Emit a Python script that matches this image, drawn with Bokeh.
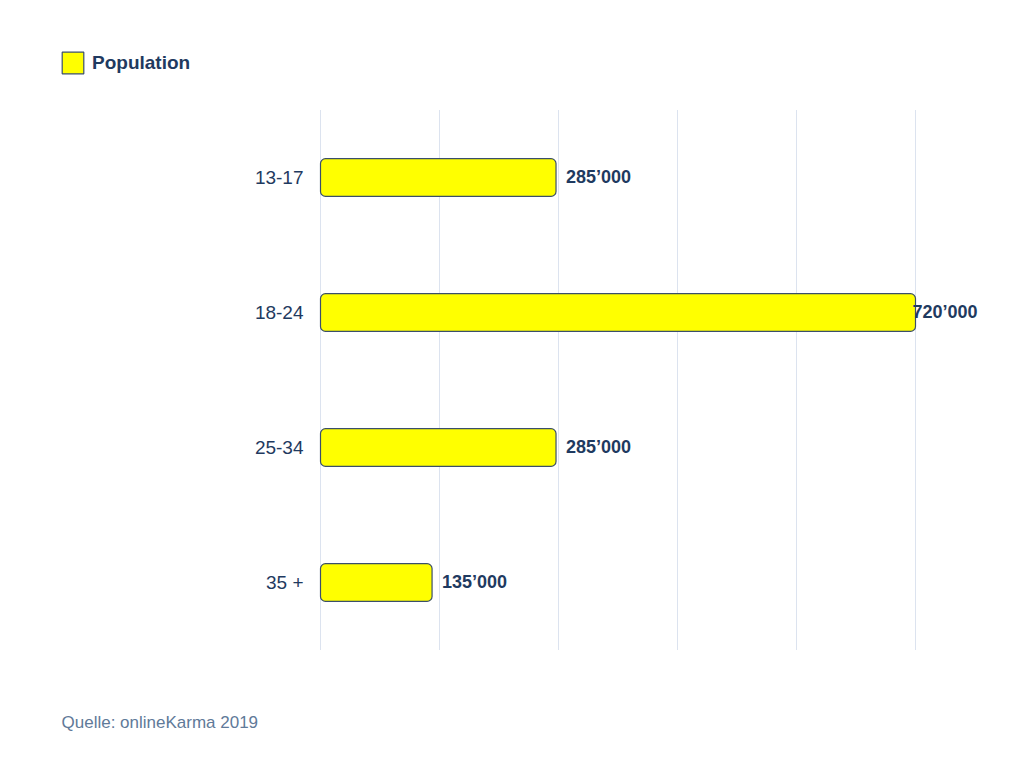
from bokeh.plotting import figure
from bokeh.models import ColumnDataSource, Legend, LegendItem, Label, Range1d
from bokeh.embed import file_html
from bokeh.resources import INLINE
from bokeh.core.properties import value

# data
ages = ["13-17", "18-24", "25-34", "35 +"]
population = [285000, 720000, 285000, 135000]
labels = ["285\u2019000", "720\u2019000", "285\u2019000", "135\u2019000"]
grid_ticks = [0, 144000, 288000, 432000, 576000, 720000]

NAVY = "#1f3a60"
FONT = "Liberation Sans"

pos = [len(ages) - 1 - i for i in range(len(ages))]
src = ColumnDataSource(dict(
    age=ages,
    pos=pos,
    pop=population,
    zero=[0] * len(ages),
    label=labels,
    off=[10 if v < max(population) else -3 for v in population],
))
grid_src = ColumnDataSource(dict(
    x=grid_ticks,
    y0=[-0.5] * len(grid_ticks),
    y1=[len(ages) - 0.5] * len(grid_ticks),
))

# 595 px for 720'000, 135 px per category
px = 595 / 720000
p = figure(width=1010, height=757, output_backend="svg", toolbar_location=None,
           x_axis_location=None, y_axis_location=None,
           x_range=Range1d(-320 / px, (1010 - 320) / px),
           y_range=Range1d(3 - (757 - 177) / 135, 3 + 177 / 135),
           min_border=0)
p.outline_line_color = None
p.grid.visible = False

p.segment(x0="x", y0="y0", x1="x", y1="y1", source=grid_src,
          line_color="#dce3ef", line_width=1)

bars = p.hbar(y="pos", right="pop", left=0, height=0.28, source=src,
              fill_color="#ffff00", line_color="#3b4f6b", line_width=1.2,
              border_radius=5)

# value labels
p.text(x="pop", y="pos", text="label", source=src, x_offset="off", y_offset=-1,
       text_baseline="middle", text_align="left", text_font=value(FONT),
       text_font_size="18px", text_font_style="bold", text_color=NAVY)

# category labels
p.text(x="zero", y="pos", text="age", source=src, x_offset=-17,
       text_baseline="middle", text_align="right", text_font=value(FONT),
       text_font_size="19px", text_color=NAVY)

legend = Legend(items=[LegendItem(label="Population", renderers=[bars])],
                location=(59, 681), border_line_color=None, background_fill_alpha=0,
                padding=0, margin=0, glyph_width=27, glyph_height=27, label_standoff=6,
                label_text_font=FONT, label_text_font_size="19px",
                label_text_font_style="bold", label_text_color=NAVY)
p.add_layout(legend, "center")

p.add_layout(Label(x=61, y=35, x_units="screen", y_units="screen",
                   text="Quelle: onlineKarma 2019", text_font=FONT,
                   text_font_size="17px", text_color="#5f7a99",
                   text_baseline="middle"))

open("out.html", "w").write(file_html(p, INLINE))
